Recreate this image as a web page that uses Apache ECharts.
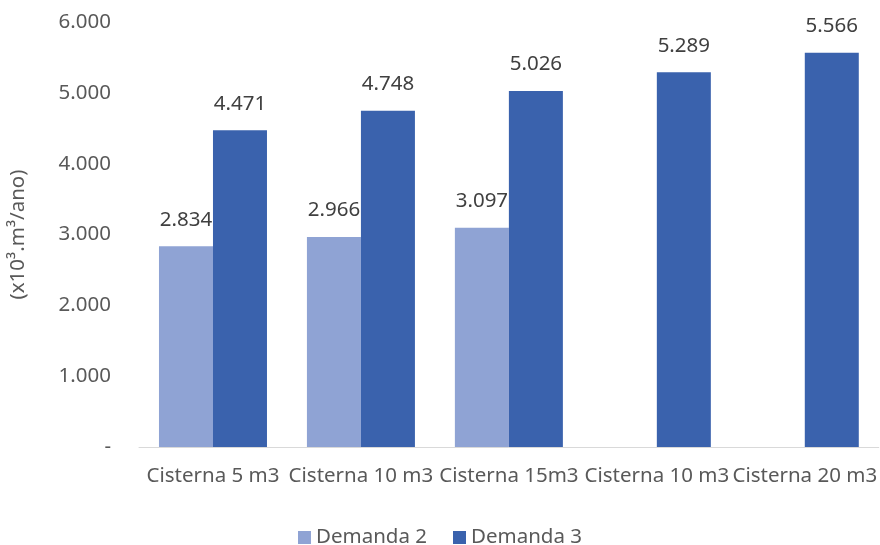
<!DOCTYPE html>
<html>
<head>
<meta charset="utf-8">
<script src="https://cdn.jsdelivr.net/npm/echarts@6/dist/echarts.min.js"></script>
<style>html,body{margin:0;padding:0;background:#fff}#c{width:880px;height:545px}</style>
</head>
<body>
<div id="c"></div>
<script>
const categories = ['Cisterna 5 m3', 'Cisterna 10 m3', 'Cisterna 15m3', 'Cisterna 10 m3', 'Cisterna 20 m3'];
const demanda2 = [2834, 2966, 3097, null, null];
const demanda3 = [4471, 4748, 5026, 5289, 5566];
const seriesNames = ['Demanda 2', 'Demanda 3'];
const yTitle = '(x10³.m³/ano)';

const FONT = 'Noto Sans';
const FS = 20.5;
function fmt(v) {
  if (v === 0) return '-';
  const s = String(Math.round(v));
  return s.replace(/\B(?=(\d{3})+(?!\d))/g, '.');
}
const chart = echarts.init(document.getElementById('c'), null, {renderer: 'canvas'});
const labelStyle = {
  show: true, position: 'top', distance: 16,
  color: '#404040', fontFamily: FONT, fontSize: FS,
  formatter: p => fmt(p.value)
};
chart.setOption({
  animation: false,
  textStyle: {fontFamily: FONT},
  grid: {left: 139, right: 0, top: 22, bottom: 98, containLabel: false},
  legend: {
    top: 522, left: 'center',
    itemWidth: 13, itemHeight: 13, itemGap: 26,
    icon: 'rect',
    textStyle: {color: '#595959', fontSize: FS, fontFamily: FONT},
    data: seriesNames
  },
  xAxis: {
    type: 'category', data: categories,
    axisLine: {lineStyle: {color: '#d9d9d9', width: 1}},
    axisTick: {show: false},
    axisLabel: {interval: 0, color: '#595959', fontSize: FS, fontFamily: FONT, margin: 19}
  },
  yAxis: {
    type: 'value', min: 0, max: 6000, interval: 1000,
    name: yTitle, nameLocation: 'middle', nameRotate: 90, nameGap: 110,
    nameTextStyle: {color: '#595959', fontSize: FS, fontFamily: FONT},
    axisLine: {show: false}, axisTick: {show: false},
    splitLine: {show: false},
    axisLabel: {color: '#595959', fontSize: FS, fontFamily: FONT, margin: 28, formatter: fmt}
  },
  series: [
    {name: seriesNames[0], type: 'bar', data: demanda2, barGap: '0%', barCategoryGap: '27%',
     itemStyle: {color: '#8FA3D4'}, label: labelStyle},
    {name: seriesNames[1], type: 'bar', data: demanda3, barGap: '0%', barCategoryGap: '27%',
     itemStyle: {color: '#3A62AD'}, label: labelStyle}
  ]
});
</script>
</body>
</html>
